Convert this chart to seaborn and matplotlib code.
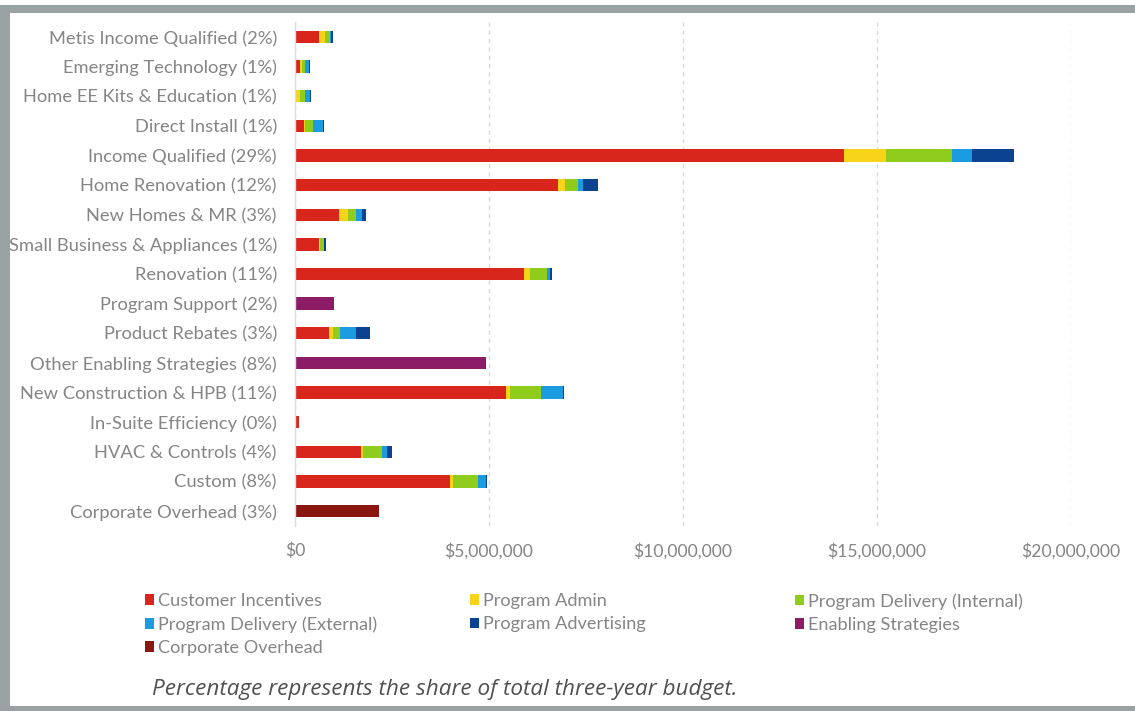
import numpy as np
import pandas as pd
import matplotlib
matplotlib.use("Agg")
import matplotlib.pyplot as plt
from matplotlib.patches import Patch, Rectangle
from matplotlib.ticker import FuncFormatter
import seaborn as sns

sns.set_theme(style="white")
plt.rcParams['font.family'] = ['Lato', 'DejaVu Sans']

categories = [
    "Metis Income Qualified (2%)",
    "Emerging Technology (1%)",
    "Home EE Kits & Education (1%)",
    "Direct Install (1%)",
    "Income Qualified (29%)",
    "Home Renovation (12%)",
    "New Homes & MR (3%)",
    "Small Business & Appliances (1%)",
    "Renovation (11%)",
    "Program Support (2%)",
    "Product Rebates (3%)",
    "Other Enabling Strategies (8%)",
    "New Construction & HPB (11%)",
    "In-Suite Efficiency (0%)",
    "HVAC & Controls (4%)",
    "Custom (8%)",
    "Corporate Overhead (3%)",
]

# values in millions of dollars
customer_incentives = [0.63, 0.14, 0.03, 0.23, 14.15, 6.78, 1.14, 0.63, 5.90, 0.0, 0.88, 0.0, 5.45, 0.11, 1.70, 3.99, 0.0]
program_admin       = [0.15, 0.04, 0.10, 0.03, 1.07, 0.18, 0.23, 0.02, 0.15, 0.0, 0.10, 0.0, 0.09, 0.0, 0.06, 0.09, 0.0]
delivery_internal   = [0.11, 0.08, 0.13, 0.20, 1.72, 0.33, 0.20, 0.11, 0.45, 0.0, 0.17, 0.0, 0.80, 0.0, 0.49, 0.64, 0.0]
delivery_external   = [0.05, 0.09, 0.12, 0.26, 0.51, 0.13, 0.15, 0.0, 0.08, 0.0, 0.43, 0.0, 0.56, 0.0, 0.13, 0.19, 0.0]
program_advertising = [0.04, 0.03, 0.03, 0.04, 1.08, 0.39, 0.11, 0.03, 0.05, 0.0, 0.36, 0.0, 0.04, 0.0, 0.13, 0.03, 0.0]
enabling_strategies = [0.0, 0.0, 0.0, 0.0, 0.0, 0.0, 0.0, 0.0, 0.0, 1.01, 0.0, 4.92, 0.0, 0.0, 0.0, 0.0, 0.0]
corporate_overhead  = [0.0, 0.0, 0.0, 0.0, 0.0, 0.0, 0.0, 0.0, 0.0, 0.0, 0.0, 0.0, 0.0, 0.0, 0.0, 0.0, 2.17]

series_names = ["Customer Incentives", "Program Admin", "Program Delivery (Internal)",
                "Program Delivery (External)", "Program Advertising", "Enabling Strategies",
                "Corporate Overhead"]
series_values = [customer_incentives, program_admin, delivery_internal, delivery_external,
                 program_advertising, enabling_strategies, corporate_overhead]
colors = {
    "Customer Incentives": "#d9261c",
    "Program Admin": "#f7d31a",
    "Program Delivery (Internal)": "#8fcc1c",
    "Program Delivery (External)": "#1b9be0",
    "Program Advertising": "#0b4390",
    "Enabling Strategies": "#8c1c66",
    "Corporate Overhead": "#8a1610",
}
xticks = [0, 5e6, 10e6, 15e6, 20e6]

df = pd.DataFrame({n: np.array(v) * 1e6 for n, v in zip(series_names, series_values)})
cum = df[series_names].cumsum(axis=1)
cum.insert(0, "category", categories)

fig = plt.figure(figsize=(11.35, 7.11), dpi=100)
fig.patch.set_facecolor("white")
ax = fig.add_axes([295/1135, 1 - 525.8/711, (1071-295)/1135, 503.6/711])

for name in reversed(series_names):
    sns.barplot(data=cum, x=name, y="category", orient="h", order=categories,
                color=colors[name], saturation=1, width=0.42, errorbar=None,
                linewidth=0, ax=ax)

ax.set_xlim(0, 20e6)
ax.set_ylim(16.5, -0.5)
ax.set_xticks(xticks)
ax.xaxis.set_major_formatter(FuncFormatter(lambda v, p: "${:,.0f}".format(v)))
ax.set_xlabel("")
ax.set_ylabel("")
ax.tick_params(axis="both", length=0, labelcolor="#858585")
ax.tick_params(axis="x", pad=12, labelsize=12.6)
ax.tick_params(axis="y", pad=13, labelsize=13.2)
for s in ["top", "right", "bottom"]:
    ax.spines[s].set_visible(False)
ax.spines["left"].set_color("#dcdcdc")
ax.spines["left"].set_linewidth(1)
ax.xaxis.grid(True, linestyle=(0, (3, 3)), color="#d9d9d9", linewidth=1)
ax.set_axisbelow(True)
ax.set_facecolor("white")

# legends, one per column
cols = [
    (["Customer Incentives", "Program Delivery (External)", "Corporate Overhead"], 145),
    (["Program Admin", "Program Advertising"], 470),
    (["Program Delivery (Internal)", "Enabling Strategies"], 795),
]
for names, xpx in cols:
    handles = [Patch(facecolor=colors[n], edgecolor="none", label=n) for n in names]
    leg = fig.legend(handles=handles, loc="upper left", bbox_to_anchor=(xpx/1135, 1 - 593/711),
                     frameon=False, fontsize=13.1, handlelength=0.5, handleheight=0.5,
                     handletextpad=0.2, labelspacing=0.4, borderpad=0, borderaxespad=0)
    for t in leg.get_texts():
        t.set_color("#858585")

fig.text(152/1135, 1 - 689/711, "Percentage represents the share of total three-year budget.",
         family=["Open Sans", "DejaVu Sans"], style="italic", fontsize=16.2, color="#505050",
         va="center", ha="left")

# screenshot frame
frame_color = "#9aa1a3"
fig.patches.append(Rectangle((0, 1 - 12.5/711), 1, 7.5/711, transform=fig.transFigure,
                             facecolor=frame_color, edgecolor="none", zorder=0))
fig.patches.append(Rectangle((0, 0), 10/1135, 1 - 5/711, transform=fig.transFigure,
                             facecolor=frame_color, edgecolor="none", zorder=0))
fig.patches.append(Rectangle((0, 0), 1, 5/711, transform=fig.transFigure,
                             facecolor=frame_color, edgecolor="none", zorder=0))

fig.savefig("out.png", dpi=100, facecolor="white")
